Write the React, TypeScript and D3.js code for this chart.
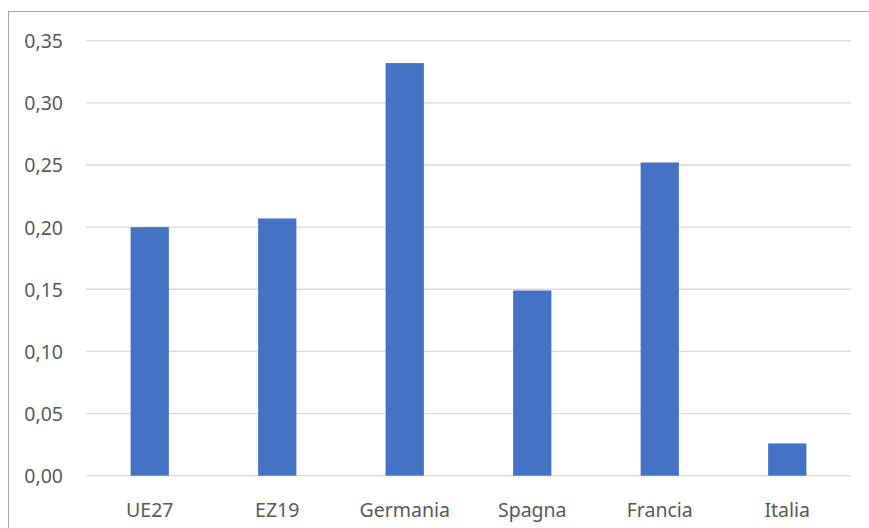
import React from "react";
import * as d3 from "d3";

const categories = ["UE27", "EZ19", "Germania", "Spagna", "Francia", "Italia"];
const values = [0.2, 0.207, 0.332, 0.149, 0.252, 0.026];
const yTicks = [0, 0.05, 0.1, 0.15, 0.2, 0.25, 0.3, 0.35];

export default function App() {
  const W = 869, H = 528;
  const left = 86, right = 851, top = 40.7, bottom = 475.7;
  const x = d3.scaleBand<string>().domain(categories).range([left, right]).paddingInner(0.7).paddingOuter(0.35);
  const y = d3.scaleLinear().domain([0, 0.35]).range([bottom, top]);
  const fmt = (v: number) => v.toFixed(2).replace(".", ",");
  const font = "'Noto Sans', 'Open Sans', sans-serif";
  return (
    <svg width={W} height={H} style={{ position: "absolute", left: 0, top: 0 }}>
      <rect x={0} y={0} width={W} height={H} fill="#fff" />
      <rect x={8.5} y={11.5} width={W} height={H} fill="none" stroke="#a6a6a6" strokeWidth={1} />
      {yTicks.map((t) => (
        <g key={t}>
          <line x1={left} x2={right} y1={y(t)} y2={y(t)} stroke="#d9d9d9" strokeWidth={1.3} />
          <text x={63} y={y(t)} dy="0.38em" textAnchor="end" fontFamily={font} fontSize={19.5} fill="#595959">
            {fmt(t)}
          </text>
        </g>
      ))}
      {categories.map((c, i) => (
        <g key={c}>
          <rect x={x(c)!} y={y(values[i])} width={x.bandwidth()} height={bottom - y(values[i])} fill="#4472c4" />
          <text x={x(c)! + x.bandwidth() / 2} y={516.5} textAnchor="middle" fontFamily={font} fontSize={19.5} fill="#595959">
            {c}
          </text>
        </g>
      ))}
    </svg>
  );
}
